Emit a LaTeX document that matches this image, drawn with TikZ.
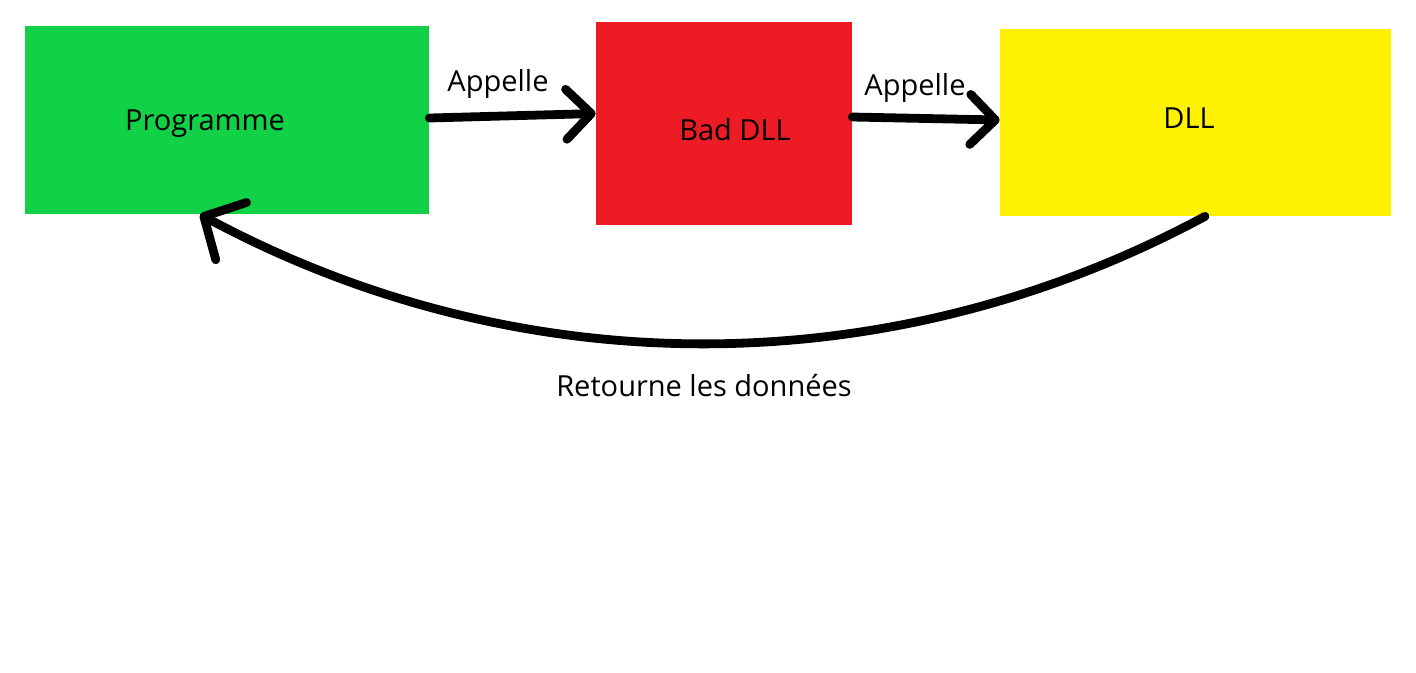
\documentclass[tikz,border=0pt]{standalone}
\usepackage{fontspec}
\setmainfont{Open Sans}
\usetikzlibrary{arrows.meta}

\begin{document}
\begin{tikzpicture}[
    % Box styles
    box/.style={
        minimum width=#1,
        inner sep=0pt
    },
    boxlabel/.style={
        font=\fontsize{16.5}{19}\selectfont
    },
    callabel/.style={
        font=\fontsize{16.5}{19}\selectfont
    },
    % Arrow styles
    arrow/.style={line width=5pt, line cap=round,
        -{Straight Barb[length=0.5cm, width=1.0cm, line cap=round, line join=round]}},
    backarrow/.style={line width=5pt, line cap=round,
        -{Straight Barb[length=0.62cm, width=1.3cm, line cap=round, line join=round]}}
    ]

    \useasboundingbox (0,0) rectangle (28.32,-13.44);

    % The three boxes
    \node[box=8.08cm, minimum height=3.76cm, fill={rgb,255:red,17;green,209;blue,71}] (prog) at (4.54,-2.40) {};
    \node[box=5.12cm, minimum height=4.06cm, fill={rgb,255:red,237;green,28;blue,36}] (bad) at (14.48,-2.47) {};
    \node[box=7.82cm, minimum height=3.74cm, fill={rgb,255:red,255;green,242;blue,0}] (dll) at (23.91,-2.45) {};

    % Texts in the boxes (not quite centred)
    \node[boxlabel] (progtext) at (4.10,-2.48) {Programme};
    \node[boxlabel] (badtext) at (14.70,-2.60) {Bad DLL};
    \node[boxlabel] (dlltext) at (23.78,-2.36) {DLL};

    % Calls
    \draw[arrow] ([yshift=0.04cm]prog.east) -- ([yshift=0.2cm]bad.west);
    \draw[arrow] ([yshift=0.13cm]bad.east) -- ([yshift=0.05cm]dll.west);
    \node[callabel] (call1) at (9.96,-1.68) {Appelle};
    \node[callabel] (call2) at (18.30,-1.76) {Appelle};

    % Data going back
    \draw[backarrow] ([xshift=0.19cm]dll.south) .. controls (17.8,-7.72) and (10.38,-7.72) .. ([xshift=-0.54cm]prog.south);
    \node[callabel] (back) at (14.08,-7.72) {Retourne les données};

\end{tikzpicture}
\end{document}
